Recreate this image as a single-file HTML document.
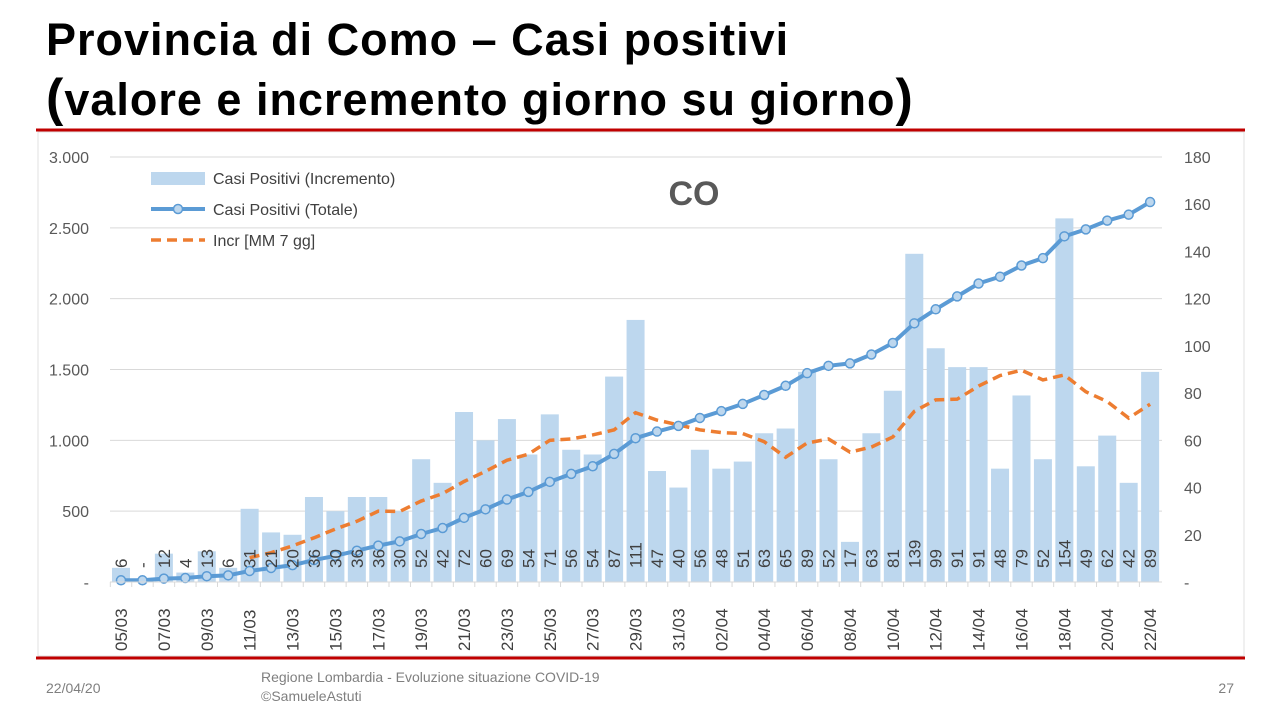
<!DOCTYPE html>
<html><head><meta charset="utf-8"><style>
body{margin:0;width:1280px;height:720px;background:#fff;font-family:"Liberation Sans",sans-serif;overflow:hidden;position:relative}
.t{position:absolute;left:46px;font-weight:bold;font-size:45px;color:#000;letter-spacing:1px;line-height:52px}
</style></head><body>
<div class="t" style="top:14px">Provincia di Como – Casi positivi</div>
<div class="t" style="top:72px"><span style="font-size:52px">(</span>valore e incremento giorno su giorno<span style="font-size:52px">)</span></div>
<svg id="s" width="1280" height="720" style="position:absolute;left:0;top:0" font-family="Liberation Sans, sans-serif"></svg>
<script>
const inc=[6,0,12,4,13,6,31,21,20,36,30,36,36,30,52,42,72,60,69,54,71,56,54,87,111,47,40,56,48,51,63,65,89,52,17,63,81,139,99,91,91,48,79,52,154,49,62,42,89];
const lab=inc.map(v=>v==0?'-':String(v));lab[0]='6';
let h='';
h+='<line x1="36" y1="130" x2="1245" y2="130" stroke="#c00000" stroke-width="3"/>';
h+='<line x1="36" y1="658" x2="1245" y2="658" stroke="#c00000" stroke-width="3"/>';
h+='<rect x="38" y="132" width="1206" height="524" fill="none" stroke="#e0e0e0"/>';
const y0=582,H=425,L=(v)=>y0-v/3000*H,R=(v)=>y0-v/180*H;
const X=i=>121+i*21.44;
const lt=['-','500','1.000','1.500','2.000','2.500','3.000'];
for(let k=0;k<=6;k++){const y=y0-k*H/6;
 h+=`<line x1="110" y1="${y}" x2="1162" y2="${y}" stroke="#d9d9d9"/>`;
 h+=`<text x="89" y="${y+6}" text-anchor="end" font-size="16" fill="#595959">${lt[k]}</text>`;}
for(let k=0;k<=9;k++){const y=y0-k*H/9;h+=`<text x="1184" y="${y+6}" font-size="16" fill="#595959">${k==0?'-':k*20}</text>`;}
inc.forEach((v,i)=>{const t=R(v);h+=`<rect x="${X(i)-9}" y="${t}" width="18" height="${y0-t}" fill="#bdd7ee"/>`;});
let ma=[];for(let i=6;i<inc.length;i++){let s=0;for(let j=i-6;j<=i;j++)s+=inc[j];ma.push(X(i)+','+R(s/7));}
h+=`<polyline points="${ma.join(' ')}" fill="none" stroke="#ed7d31" stroke-width="3.5" stroke-dasharray="10,6"/>`;
let c=0,pts=[];inc.forEach((v,i)=>{c+=v;pts.push([X(i),L(c+6)]);});
h+=`<polyline points="${pts.map(p=>p.join(',')).join(' ')}" fill="none" stroke="#5b9bd5" stroke-width="4"/>`;
pts.forEach(p=>h+=`<circle cx="${p[0]}" cy="${p[1]}" r="4.5" fill="#bdd7ee" stroke="#5b9bd5" stroke-width="1.5"/>`);
inc.forEach((v,i)=>{h+=`<text transform="translate(${X(i)+6},568) rotate(-90)" font-size="17" fill="#404040">${lab[i]}</text>`;});
h+=`<line x1="110" y1="${y0}" x2="1162" y2="${y0}" stroke="#d9d9d9"/>`;
const d=['05/03','06/03','07/03','08/03','09/03','10/03','11/03','12/03','13/03','14/03','15/03','16/03','17/03','18/03','19/03','20/03','21/03','22/03','23/03','24/03','25/03','26/03','27/03','28/03','29/03','30/03','31/03','01/04','02/04','03/04','04/04','05/04','06/04','07/04','08/04','09/04','10/04','11/04','12/04','13/04','14/04','15/04','16/04','17/04','18/04','19/04','20/04','21/04','22/04'];
d.forEach((s,i)=>{if(i%2==0)h+=`<text transform="translate(${X(i)+6},651) rotate(-90)" font-size="17" fill="#404040">${s}</text>`;
 h+=`<line x1="${X(i)-10.7}" y1="${y0}" x2="${X(i)-10.7}" y2="${y0+5}" stroke="#d9d9d9"/>`;});
h+='<rect x="151" y="172" width="54" height="13" fill="#bdd7ee"/>';
h+='<text x="213" y="184" font-size="16" fill="#404040">Casi Positivi (Incremento)</text>';
h+='<line x1="151" y1="209" x2="205" y2="209" stroke="#5b9bd5" stroke-width="4"/><circle cx="178" cy="209" r="4.5" fill="#bdd7ee" stroke="#5b9bd5" stroke-width="1.5"/>';
h+='<text x="213" y="215" font-size="16" fill="#404040">Casi Positivi (Totale)</text>';
h+='<line x1="151" y1="240" x2="205" y2="240" stroke="#ed7d31" stroke-width="3.5" stroke-dasharray="10,6"/>';
h+='<text x="213" y="246" font-size="16" fill="#404040">Incr [MM 7 gg]</text>';
h+='<text x="694" y="205" text-anchor="middle" font-size="34" font-weight="bold" fill="#595959">CO</text>';
h+='<text x="46" y="693" font-size="14" fill="#7f7f7f">22/04/20</text>';
h+='<text x="261" y="682" font-size="14" fill="#7f7f7f">Regione Lombardia - Evoluzione situazione COVID-19</text>';
h+='<text x="261" y="701" font-size="14" fill="#7f7f7f">©SamueleAstuti</text>';
h+='<text x="1234" y="693" text-anchor="end" font-size="14" fill="#7f7f7f">27</text>';
document.getElementById('s').innerHTML=h;
</script>
</body></html>
